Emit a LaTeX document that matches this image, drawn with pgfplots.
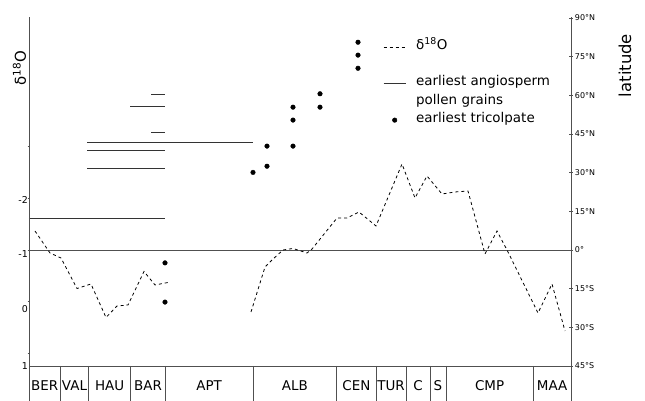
\documentclass[border=0pt]{standalone}
\usepackage{fontspec}
\setmainfont{DejaVu Sans}
\usepackage{pgfplots}
\pgfplotsset{compat=1.18}
\definecolor{axisgray}{HTML}{505050}

\pgfplotsset{
  chartframe/.style={
    scale only axis, width=542bp, height=384bp,
    xmin=29, xmax=571,
    axis x line=none,
    tick align=outside,
    tick style={axisgray, line width=0.6bp},
    unbounded coords=jump,
    clip=false,
  },
  plainline/.style={
    axis line style={axisgray, line width=0.9bp, -},
    every outer y axis line/.append style={-},
    every inner y axis line/.append style={-},
    y axis line style={-},
  },
}

\begin{document}
\begin{tikzpicture}
\useasboundingbox (-29bp,0bp) rectangle (616bp,401bp);

% right axis: latitude, stage boxes, pollen records
\begin{axis}[
  chartframe,
  ymin=-58.58, ymax=90.39,
  axis y line=right,
  plainline,
  ytick={-45,-30,...,90},
  yticklabels={45°S,30°S,15°S,0°,15°N,30°N,45°N,60°N,75°N,90°N},
  major tick length=3.5bp,
  yticklabel style={font=\fontsize{8}{9}\selectfont, inner sep=2bp},
  ylabel={latitude},
  ylabel style={at={(rel axis cs:1.0996,0.8737)}, anchor=center, font=\fontsize{16.5}{18}\selectfont},
  legend image code/.code={\draw[mark repeat=2,mark phase=2,#1] plot coordinates {(0bp,0bp) (11bp,0bp) (22bp,0bp)};},
  legend style={at={(axis cs:383,82.4)}, anchor=north west, draw=none, fill=none,
    inner sep=0pt, row sep=0pt, column sep=10bp,
    font=\fontsize{13.5}{15}\selectfont, cells={anchor=west},
    nodes={inner sep=0pt, text height=11.5bp, text depth=6.8bp}},
]
\addlegendimage{black, line width=0.8bp, dash pattern=on 3bp off 3bp}
\addlegendentry{δ\textsuperscript{18}O}
\addlegendimage{empty legend}
\addlegendentry{}

% earliest angiosperm pollen
\addplot[black!80, line width=1bp] coordinates {
  (151,60.5) (165,60.5) (151,nan)
  (130,55.5) (165,55.5) (130,nan)
  (151,45.4) (165,45.4) (151,nan)
  (87,41.6) (253,41.6) (87,nan)
  (87,38.5) (165,38.5) (87,nan)
  (87,31.5) (165,31.5) (87,nan)
  (29,12.3) (165,12.3)
};
\addlegendentry{earliest angiosperm}
\addlegendimage{empty legend}
\addlegendentry{pollen grains}

% earliest tricolpate
\addplot[only marks, mark=*, mark size=2.3bp, black] coordinates {
  (165,-5.0) (165,-20.2)
  (253,30.1) (267,32.5) (267,40.3) (293,40.3)
  (293,50.4) (293,55.4) (320,55.4) (320,60.6)
  (358,70.5) (358,75.6) (358,80.6)
};
\addlegendentry{earliest tricolpate}

% equator and stage boxes
\addplot[axisgray, line width=0.9bp, forget plot] coordinates {
  (29,0) (571,0) (29,nan)
  (29,-45) (571,-45) (29,nan)
  (60.5,-45) (60.5,-58.58) (60.5,nan)
  (88.5,-45) (88.5,-58.58) (88.5,nan)
  (130.7,-45) (130.7,-58.58) (130.7,nan)
  (165.3,-45) (165.3,-58.58) (165.3,nan)
  (253,-45) (253,-58.58) (253,nan)
  (336.7,-45) (336.7,-58.58) (336.7,nan)
  (376,-45) (376,-58.58) (376,nan)
  (406,-45) (406,-58.58) (406,nan)
  (430,-45) (430,-58.58) (430,nan)
  (446,-45) (446,-58.58) (446,nan)
  (533.3,-45) (533.3,-58.58)
};

\begin{scope}[font=\fontsize{13.5}{15}\selectfont]
  \node at (axis cs:44.75,-52.76) {BER};
  \node at (axis cs:74.5,-52.76) {VAL};
  \node at (axis cs:109.6,-52.76) {HAU};
  \node at (axis cs:148,-52.76) {BAR};
  \node at (axis cs:209.15,-52.76) {APT};
  \node at (axis cs:294.85,-52.76) {ALB};
  \node at (axis cs:356.35,-52.76) {CEN};
  \node at (axis cs:391,-52.76) {TUR};
  \node at (axis cs:418,-52.76) {C};
  \node at (axis cs:438,-52.76) {S};
  \node at (axis cs:489.65,-52.76) {CMP};
  \node at (axis cs:552.15,-52.76) {MAA};
\end{scope}
\end{axis}

% left axis: oxygen isotope curve
\begin{axis}[
  chartframe,
  ymin=-5.502, ymax=1.918, y dir=reverse,
  axis y line=left,
  plainline,
  ytick={-3,-2,-1,0,1}, yticklabels={},
  extra y ticks={-1.966,-0.917,0.146,1.236},
  extra y tick labels={-2,-1,0,1},
  extra y tick style={major tick length=0pt},
  major tick length=2.5bp,
  yticklabel style={font=\fontsize{9.5}{11}\selectfont, inner sep=1bp},
  ylabel={δ\textsuperscript{18}O},
  ylabel style={at={(rel axis cs:-0.0175,0.867)}, anchor=center, font=\fontsize{15}{17}\selectfont},
]
\addplot[black, line width=0.8bp, dash pattern=on 3bp off 3bp] coordinates {
  (35,-1.367) (50,-0.942) (61,-0.845) (77,-0.256) (91,-0.343)
  (106,0.304) (117,0.082) (128,0.063) (144,-0.585) (155,-0.324) (168,-0.372)
  (200,nan)
  (251,0.198) (265,-0.671) (272,-0.807) (283,-1.0) (293,-1.029)
  (307,-0.942) (312,-1.019) (337,-1.618) (347,-1.618) (359,-1.734)
  (376,-1.464) (402,-2.662) (415,-2.005) (427,-2.430) (442,-2.082)
  (455,-2.121) (468,-2.140) (485,-0.923) (497,-1.367) (507,-1.0)
  (538,0.217) (552,-0.343) (565,0.565)
};
\end{axis}
\end{tikzpicture}
\end{document}
